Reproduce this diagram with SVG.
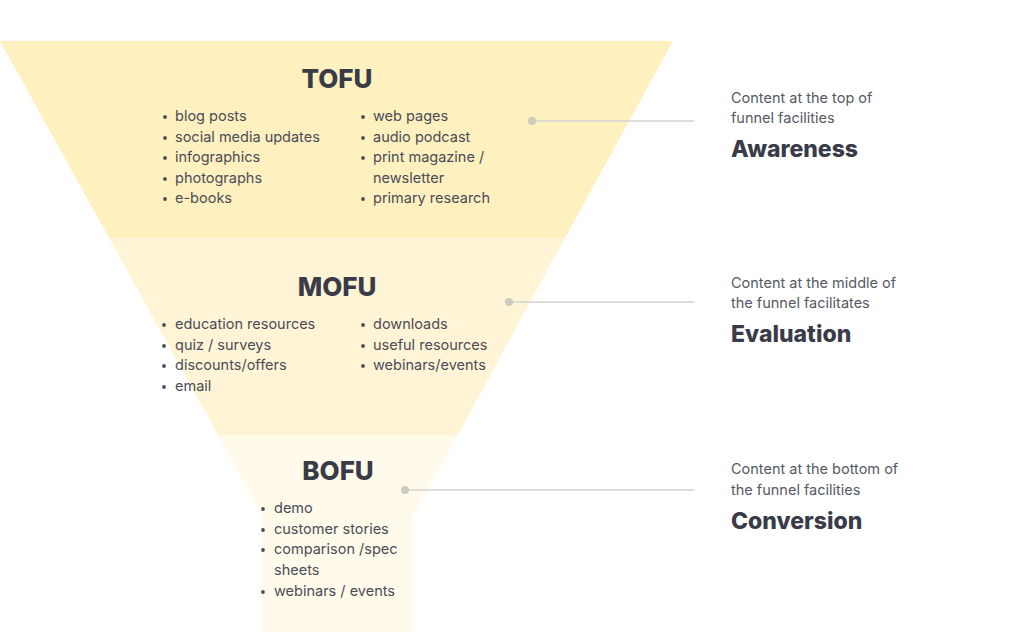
<svg xmlns="http://www.w3.org/2000/svg" width="1024" height="641" viewBox="0 0 1024 641">
<style>
.title{font-family:Inter,"Noto Sans",sans-serif;font-weight:800;font-size:26px;fill:#393c48;text-anchor:middle}
.item{font-family:Inter,"Noto Sans",sans-serif;font-size:14.5px;fill:#4a4d58}
.bul{fill:#4a4d58}
.desc{font-family:Inter,"Noto Sans",sans-serif;font-size:14.5px;fill:#555964}
.stage{font-family:Inter,"Noto Sans",sans-serif;font-weight:800;font-size:23px;fill:#393c48}
.conn line{stroke:#d2d2d2;stroke-width:1.5}
.conn circle{fill:#cdcac0}
</style>
<rect width="1024" height="641" fill="#ffffff"/>
<g id="tofu">
<polygon points="0,41 673,41 565,238 109,238" fill="#fef0bf"/>
<text class="title" x="337" y="88">TOFU</text>
<g class="item">
<text x="175" y="121">blog posts</text>
<text x="175" y="142">social media updates</text>
<text x="175" y="162">infographics</text>
<text x="175" y="183">photographs</text>
<text x="175" y="203">e-books</text>
<text x="373" y="121">web pages</text>
<text x="373" y="142">audio podcast</text>
<text x="373" y="162">print magazine /</text>
<text x="373" y="183">newsletter</text>
<text x="373" y="203">primary research</text>
</g>
<g class="bul">
<circle cx="165" cy="117" r="1.9"/><circle cx="165" cy="138" r="1.9"/><circle cx="165" cy="158" r="1.9"/><circle cx="165" cy="179" r="1.9"/><circle cx="165" cy="199" r="1.9"/>
<circle cx="363" cy="117" r="1.9"/><circle cx="363" cy="138" r="1.9"/><circle cx="363" cy="158" r="1.9"/><circle cx="363" cy="199" r="1.9"/>
</g>
</g>
<g id="mofu">
<polygon points="109,238 565,238 458,435 218,435" fill="#fff5d6"/>
<text class="title" x="337" y="296">MOFU</text>
<g class="item">
<text x="175" y="329">education resources</text>
<text x="175" y="350">quiz / surveys</text>
<text x="175" y="370">discounts/offers</text>
<text x="175" y="391">email</text>
<text x="373" y="329">downloads</text>
<text x="373" y="350">useful resources</text>
<text x="373" y="370">webinars/events</text>
</g>
<g class="bul">
<circle cx="164" cy="325" r="1.9"/><circle cx="164" cy="346" r="1.9"/><circle cx="164" cy="366" r="1.9"/><circle cx="164" cy="387" r="1.9"/>
<circle cx="363" cy="325" r="1.9"/><circle cx="363" cy="346" r="1.9"/><circle cx="363" cy="366" r="1.9"/>
</g>
</g>
<g id="bofu">
<polygon points="218,435 458,435 413,515 413,632 262,632 262,515" fill="#fffaea"/>
<text class="title" x="338" y="480">BOFU</text>
<g class="item">
<text x="274" y="513">demo</text>
<text x="274" y="534">customer stories</text>
<text x="274" y="554">comparison /spec</text>
<text x="274" y="575">sheets</text>
<text x="274" y="596">webinars / events</text>
</g>
<g class="bul">
<circle cx="263" cy="509" r="1.9"/><circle cx="263" cy="530" r="1.9"/><circle cx="263" cy="550" r="1.9"/><circle cx="263" cy="592" r="1.9"/>
</g>
</g>
<g id="connectors" class="conn">
<line x1="532" y1="121" x2="694" y2="121"/><circle cx="532" cy="121" r="4"/>
<line x1="509" y1="302" x2="694" y2="302"/><circle cx="509" cy="302" r="4"/>
<line x1="405" y1="490" x2="694" y2="490"/><circle cx="405" cy="490" r="4"/>
</g>
<g id="awareness">
<text class="desc" x="731" y="103">Content at the top of</text>
<text class="desc" x="731" y="123">funnel facilities</text>
<text class="stage" x="731" y="157">Awareness</text>
</g>
<g id="evaluation">
<text class="desc" x="731" y="288">Content at the middle of</text>
<text class="desc" x="731" y="308">the funnel facilitates</text>
<text class="stage" x="731" y="342">Evaluation</text>
</g>
<g id="conversion">
<text class="desc" x="731" y="474">Content at the bottom of</text>
<text class="desc" x="731" y="495">the funnel facilities</text>
<text class="stage" x="731" y="529">Conversion</text>
</g>
</svg>
